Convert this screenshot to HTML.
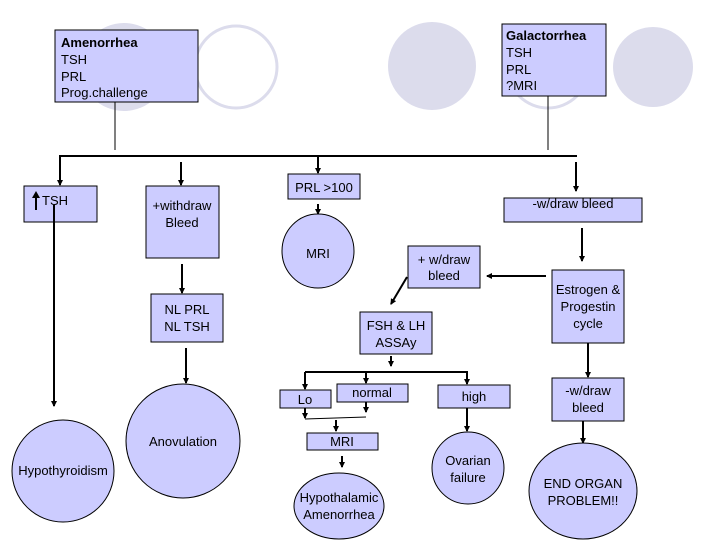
<!DOCTYPE html>
<html><head><meta charset="utf-8"><style>
html,body{margin:0;padding:0;background:#fff;}
svg{display:block;}
text{font-family:"Liberation Sans",sans-serif;font-size:13px;fill:#000;}
.b{fill:#ccccff;stroke:#000;stroke-width:1;}
.l{stroke:#000;stroke-width:2;fill:none;}
.t{stroke:#000;stroke-width:1;fill:none;}
</style></head><body>
<svg width="720" height="540" viewBox="0 0 720 540" xmlns="http://www.w3.org/2000/svg">
<defs><marker id="a" markerWidth="6" markerHeight="6" refX="5" refY="3" orient="auto" markerUnits="userSpaceOnUse"><path d="M0,0 L6,3 L0,6z" fill="#000"/></marker></defs>
<!-- background circles -->
<circle cx="124" cy="67" r="44" fill="#dcdcec"/>
<circle cx="236" cy="67" r="41" fill="none" stroke="#dcdcec" stroke-width="3"/>
<circle cx="432" cy="66" r="44" fill="#dcdcec"/>
<circle cx="548" cy="67" r="41" fill="none" stroke="#dcdcec" stroke-width="3"/>
<circle cx="653" cy="67" r="40" fill="#dcdcec"/>
<!-- top boxes -->
<rect class="b" x="55" y="30" width="143" height="72"/>
<text x="61" y="47" font-weight="bold">Amenorrhea</text>
<text x="61" y="64">TSH</text><text x="61" y="81">PRL</text><text x="61" y="97">Prog.challenge</text>
<rect class="b" x="502" y="24" width="104" height="72"/>
<text x="506" y="40" font-weight="bold">Galactorrhea</text>
<text x="506" y="57">TSH</text><text x="506" y="74">PRL</text><text x="506" y="90">?MRI</text>
<line class="t" x1="115" y1="102" x2="115" y2="150"/>
<line class="t" x1="548" y1="96" x2="548" y2="150"/>
<line class="l" x1="59" y1="156" x2="577" y2="156"/>
<line class="l" x1="60" y1="156" x2="60" y2="185" marker-end="url(#a)"/>
<line class="l" x1="181" y1="162" x2="181" y2="185" marker-end="url(#a)"/>
<line class="l" x1="318" y1="156" x2="318" y2="173" marker-end="url(#a)"/>
<line class="l" x1="576" y1="162" x2="576" y2="191" marker-end="url(#a)"/>
<!-- TSH -->
<rect class="b" x="24" y="186" width="73" height="36"/>
<line class="l" x1="36" y1="210" x2="36" y2="197"/><path d="M32,198 L36,191 L40,198z"/>
<text x="42" y="205">TSH</text>
<line class="l" x1="54" y1="205" x2="54" y2="406" marker-end="url(#a)"/>
<ellipse class="b" cx="63" cy="471" rx="51" ry="51"/>
<text x="63" y="475" text-anchor="middle">Hypothyroidism</text>
<!-- withdraw -->
<rect class="b" x="146" y="186" width="73" height="72"/>
<text x="182" y="210" text-anchor="middle">+withdraw</text><text x="182" y="227" text-anchor="middle">Bleed</text>
<line class="l" x1="182" y1="264" x2="182" y2="293" marker-end="url(#a)"/>
<rect class="b" x="151" y="294" width="72" height="48"/>
<text x="187" y="314" text-anchor="middle">NL PRL</text><text x="187" y="331" text-anchor="middle">NL TSH</text>
<line class="l" x1="186" y1="348" x2="186" y2="383" marker-end="url(#a)"/>
<ellipse class="b" cx="183" cy="441" rx="57" ry="57"/>
<text x="183" y="446" text-anchor="middle">Anovulation</text>
<!-- PRL -->
<rect class="b" x="288" y="174" width="72" height="25"/>
<text x="324" y="192" text-anchor="middle">PRL &gt;100</text>
<line class="l" x1="318" y1="204" x2="318" y2="214" marker-end="url(#a)"/>
<ellipse class="b" cx="318" cy="251" rx="36" ry="37"/>
<text x="318" y="258" text-anchor="middle">MRI</text>
<!-- right column -->
<rect class="b" x="504" y="198" width="138" height="24"/>
<text x="573" y="208" text-anchor="middle">-w/draw bleed</text>
<line class="l" x1="582" y1="228" x2="582" y2="261" marker-end="url(#a)"/>
<rect class="b" x="552" y="270" width="72" height="73"/>
<text x="588" y="294" text-anchor="middle">Estrogen &amp;</text><text x="588" y="311" text-anchor="middle">Progestin</text><text x="588" y="328" text-anchor="middle">cycle</text>
<line class="l" x1="546" y1="276" x2="487" y2="276" marker-end="url(#a)"/>
<rect class="b" x="408" y="246" width="72" height="42"/>
<text x="444" y="264" text-anchor="middle">+ w/draw</text><text x="444" y="280" text-anchor="middle">bleed</text>
<line class="l" x1="407" y1="277" x2="391" y2="304" marker-end="url(#a)"/>
<rect class="b" x="360" y="312" width="72" height="42"/>
<text x="396" y="330" text-anchor="middle">FSH &amp; LH</text><text x="396" y="347" text-anchor="middle">ASSAy</text>
<line class="l" x1="391" y1="356" x2="391" y2="366" marker-end="url(#a)"/>
<line class="l" x1="305" y1="372" x2="468" y2="372"/>
<line class="l" x1="305" y1="372" x2="305" y2="389" marker-end="url(#a)"/>
<line class="l" x1="366" y1="372" x2="366" y2="383" marker-end="url(#a)"/>
<line class="l" x1="467" y1="372" x2="467" y2="384" marker-end="url(#a)"/>
<rect class="b" x="280" y="390" width="51" height="18"/>
<text x="305" y="404" text-anchor="middle">Lo</text>
<rect class="b" x="337" y="384" width="71" height="18"/>
<text x="372" y="397" text-anchor="middle">normal</text>
<rect class="b" x="438" y="385" width="72" height="23"/>
<text x="474" y="401" text-anchor="middle">high</text>
<line class="l" x1="305" y1="408" x2="305" y2="418" marker-end="url(#a)"/>
<line class="l" x1="366" y1="402" x2="366" y2="412" marker-end="url(#a)"/>
<line class="t" x1="305" y1="419" x2="366" y2="417"/>
<line class="l" x1="336" y1="420" x2="336" y2="431" marker-end="url(#a)"/>
<rect class="b" x="307" y="433" width="71" height="17"/>
<text x="342" y="446" text-anchor="middle">MRI</text>
<line class="l" x1="342" y1="456" x2="342" y2="467" marker-end="url(#a)"/>
<ellipse class="b" cx="339" cy="506" rx="45" ry="33"/>
<text x="339" y="502" text-anchor="middle">Hypothalamic</text><text x="339" y="519" text-anchor="middle">Amenorrhea</text>
<line class="l" x1="467" y1="408" x2="467" y2="431" marker-end="url(#a)"/>
<ellipse class="b" cx="468" cy="468" rx="36" ry="36"/>
<text x="468" y="465" text-anchor="middle">Ovarian</text><text x="468" y="482" text-anchor="middle">failure</text>
<line class="l" x1="588" y1="343" x2="588" y2="377" marker-end="url(#a)"/>
<rect class="b" x="552" y="378" width="72" height="43"/>
<text x="588" y="395" text-anchor="middle">-w/draw</text><text x="588" y="412" text-anchor="middle">bleed</text>
<line class="l" x1="583" y1="421" x2="583" y2="443" marker-end="url(#a)"/>
<ellipse class="b" cx="583" cy="491" rx="54" ry="48"/>
<text x="583" y="488" text-anchor="middle">END ORGAN</text><text x="583" y="505" text-anchor="middle">PROBLEM!!</text>
</svg>
</body></html>
